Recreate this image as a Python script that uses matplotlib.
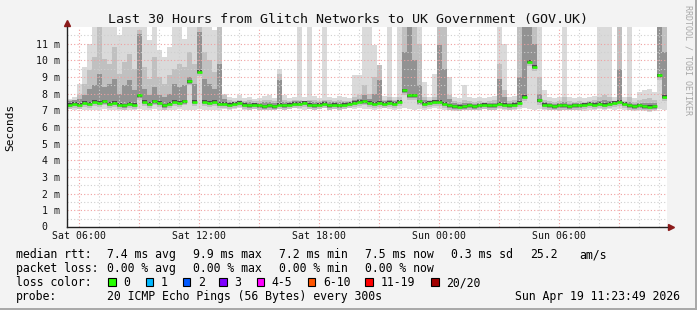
import matplotlib
matplotlib.use("Agg")
import matplotlib.pyplot as plt
import matplotlib.dates as mdates
from matplotlib.patches import Rectangle
import numpy as np
import pandas as pd

# one bin = 15 minutes, 30 hours in total
START = "2026-04-18 05:25"
STEP = "15min"

# smoke bands in ms (lowest ping, upper edges of the three gray layers)
smoke_lo = [
    7.1, 7.05, 7.1, 7.0, 7.05, 7.0, 7.05, 7.1, 7.0, 7.05,
    7.0, 7.05, 7.0, 7.05, 7.1, 7.0, 7.05, 7.1, 7.0, 7.05,
    7.0, 7.05, 7.1, 7.0, 7.05, 7.0, 7.1, 7.05, 7.0, 7.05,
    7.05, 7.1, 7.05, 7.1, 7.15, 7.05, 7.0, 7.1, 7.05, 7.0,
    7.05, 7.0, 7.1, 7.05, 7.1, 7.15, 7.1, 7.05, 7.1, 7.05,
    7.1, 7.15, 7.05, 7.1, 7.05, 7.1, 7.15, 7.1, 7.15, 7.1,
    7.1, 7.05, 7.1, 7.15, 7.1, 7.05, 7.1, 7.15, 7.1, 7.05,
    7.1, 7.05, 7.1, 7.15, 7.1, 7.05, 7.0, 6.95, 7.0, 7.0,
    7.05, 7.0, 7.05, 7.1, 7.0, 7.05, 7.1, 7.05, 7.0, 7.05,
    7.1, 7.15, 7.1, 7.05, 7.1, 7.0, 7.05, 7.0, 6.95, 7.0,
    7.0, 7.05, 7.0, 6.95, 7.05, 7.0, 7.1, 7.05, 7.1, 7.05,
    7.1, 7.05, 7.0, 6.95, 7.0, 6.95, 6.9, 6.95, 7.1, 7.05,
]
smoke_top = [
    7.7, 7.8, 8.6, 9.6, 11.0, 12.5, 12.5, 12.5, 12.5, 12.5,
    11.5, 12.5, 12.5, 12.5, 12.5, 12.5, 11.2, 12.5, 10.6, 10.2,
    10.8, 12.5, 12.5, 11.3, 12.5, 12.5, 12.5, 12.5, 12.5, 11.8,
    12.5, 8.0, 7.8, 7.75, 7.9, 7.75, 7.8, 7.7, 7.75, 7.85,
    7.9, 7.75, 9.5, 7.9, 7.75, 7.8, 12.5, 7.8, 12.5, 7.85,
    7.75, 12.5, 7.8, 7.75, 7.85, 7.8, 7.75, 9.1, 9.1, 12.5,
    12.5, 10.9, 9.7, 7.85, 12.5, 7.8, 12.5, 12.5, 12.5, 12.5,
    12.5, 8.7, 7.8, 9.2, 12.5, 12.5, 9.0, 7.8, 7.75, 8.5,
    7.8, 7.75, 7.8, 7.75, 7.8, 7.85, 12.5, 11.0, 7.8, 7.85,
    12.5, 12.5, 12.5, 12.5, 12.5, 8.2, 7.8, 7.75, 7.8, 12.5,
    7.8, 7.75, 7.8, 7.75, 7.8, 7.85, 12.5, 12.5, 12.5, 7.8,
    12.5, 7.8, 12.5, 7.75, 8.1, 8.2, 8.3, 8.1, 12.5, 12.5,
]
smoke_mid = [
    7.6, 7.65, 7.9, 8.6, 9.4, 10.2, 12.5, 10.1, 9.8, 10.8,
    9.2, 9.9, 10.4, 9.5, 11.8, 9.6, 8.9, 10.2, 9.0, 8.6,
    9.1, 9.5, 9.8, 9.6, 10.5, 9.8, 12.5, 10.5, 10.0, 9.3,
    12.5, 7.9, 7.6, 7.55, 7.65, 7.55, 7.6, 7.55, 7.55, 7.6,
    7.65, 7.55, 9.2, 7.65, 7.55, 7.6, 7.65, 7.55, 7.65, 7.6,
    7.55, 7.65, 7.6, 7.55, 7.6, 7.55, 7.55, 7.8, 7.9, 8.5,
    8.0, 9.0, 9.7, 7.65, 7.8, 7.6, 7.8, 12.5, 12.5, 12.5,
    11.0, 7.8, 7.6, 7.8, 12.5, 12.5, 7.9, 7.55, 7.5, 7.65,
    7.55, 7.5, 7.55, 7.5, 7.55, 7.6, 9.8, 8.2, 7.55, 7.6,
    12.5, 12.5, 12.5, 12.5, 9.0, 7.65, 7.55, 7.5, 7.55, 7.8,
    7.55, 7.5, 7.55, 7.5, 7.55, 7.6, 7.8, 7.9, 7.8, 7.55,
    12.5, 7.55, 7.8, 7.5, 7.65, 7.7, 7.75, 7.65, 12.5, 12.5,
]
smoke_dark = [
    7.55, 7.6, 7.7, 7.9, 8.3, 8.5, 9.2, 8.4, 8.6, 8.9,
    8.0, 8.5, 8.8, 8.2, 11.6, 8.3, 7.9, 8.4, 7.9, 7.8,
    8.0, 8.6, 8.4, 8.5, 9.0, 8.6, 11.7, 8.9, 8.6, 8.3,
    9.8, 7.7, 7.5, 7.5, 7.55, 7.5, 7.5, 7.45, 7.45, 7.5,
    7.5, 7.45, 8.8, 7.5, 7.5, 7.55, 7.55, 7.5, 7.55, 7.5,
    7.5, 7.55, 7.5, 7.5, 7.5, 7.5, 7.5, 7.6, 7.7, 7.9,
    7.7, 8.0, 8.8, 7.55, 7.6, 7.55, 7.6, 10.5, 12.5, 10.0,
    8.5, 7.6, 7.5, 7.6, 10.9, 9.5, 7.7, 7.45, 7.4, 7.45,
    7.45, 7.4, 7.45, 7.45, 7.45, 7.45, 8.9, 7.8, 7.45, 7.5,
    9.0, 12.5, 12.5, 11.0, 8.0, 7.5, 7.45, 7.4, 7.45, 7.5,
    7.4, 7.45, 7.45, 7.45, 7.5, 7.5, 7.55, 7.6, 7.55, 7.5,
    9.5, 7.5, 7.5, 7.4, 7.45, 7.45, 7.45, 7.45, 12.5, 10.5,
]
median_rtt = [
    7.35, 7.4, 7.35, 7.45, 7.4, 7.5, 7.45, 7.55, 7.4, 7.45,
    7.35, 7.3, 7.4, 7.35, 7.9, 7.5, 7.4, 7.55, 7.45, 7.3,
    7.4, 7.5, 7.45, 7.55, 8.75, 7.5, 9.3, 7.5, 7.45, 7.5,
    7.4, 7.4, 7.35, 7.4, 7.45, 7.35, 7.3, 7.35, 7.3, 7.25,
    7.3, 7.25, 7.35, 7.3, 7.35, 7.4, 7.4, 7.45, 7.35, 7.3,
    7.35, 7.4, 7.3, 7.35, 7.3, 7.35, 7.4, 7.45, 7.5, 7.55,
    7.45, 7.4, 7.45, 7.4, 7.45, 7.4, 7.5, 8.2, 7.9, 7.9,
    7.55, 7.4, 7.45, 7.5, 7.5, 7.4, 7.3, 7.25, 7.2, 7.25,
    7.3, 7.25, 7.3, 7.35, 7.3, 7.3, 7.4, 7.35, 7.3, 7.35,
    7.45, 7.8, 9.9, 9.6, 7.6, 7.35, 7.3, 7.25, 7.3, 7.3,
    7.25, 7.3, 7.3, 7.35, 7.4, 7.35, 7.4, 7.35, 7.4, 7.45,
    7.5, 7.4, 7.3, 7.25, 7.3, 7.25, 7.2, 7.25, 9.1, 7.8,
]

y_ticks = list(range(12))
y_labels = ["0"] + ["%d m" % v for v in range(1, 12)]

title = "Last 30 Hours from Glitch Networks to UK Government (GOV.UK)"
rtt_items = ["7.4 ms avg", "9.9 ms max", "7.2 ms min", "7.5 ms now",
             "0.3 ms sd", "25.2", "am/s"]
loss_items = ["0.00 % avg", "0.00 % max", "0.00 % min", "0.00 % now"]
loss_labels = ["0", "1", "2", "3", "4-5", "6-10", "11-19", "20/20"]
loss_colors = ["#26ff00", "#00b8ff", "#0059ff", "#7e00ff",
               "#ff00ff", "#ff5500", "#ff0000", "#a10000"]
probe_text = "20 ICMP Echo Pings (56 Bytes) every 300s"
stamp_text = "Sun Apr 19 11:23:49 2026"

plt.rcParams["font.family"] = ["DejaVu Sans Mono"]

W, H = 697, 310
fig = plt.figure(figsize=(W / 100, H / 100), dpi=100, facecolor="#f3f3f3")
ax = fig.add_axes([67 / W, (H - 227) / H, 600 / W, 200 / H])
ax.set_facecolor("white")

edges = pd.date_range(START, periods=len(median_rtt) + 1, freq=STEP)
ex = mdates.date2num(edges.to_pydatetime())
med = np.array(median_rtt)

ax.stairs(smoke_top, ex, baseline=smoke_lo, fill=True, color="#dadada", lw=0, zorder=1)
ax.stairs(smoke_mid, ex, baseline=med - 0.25, fill=True, color="#c0c0c0", lw=0, zorder=1.2)
ax.stairs(smoke_dark, ex, baseline=med - 0.14, fill=True, color="#929292", lw=0, zorder=1.4)
ax.stairs(med + 0.1, ex, baseline=med - 0.08, fill=True, color="#4a4a4a", lw=0, zorder=1.6)

# rrdtool puts the grid over the smoke
dots = (0, (1, 2))
for t in pd.date_range("2026-04-18 06:00", "2026-04-19 11:00", freq="1h"):
    col = "#f0a0a0" if t.hour % 3 == 0 else "#cfcfcf"
    ax.axvline(mdates.date2num(t.to_pydatetime()), color=col, lw=0.8, ls=dots, zorder=3)
for y in np.arange(0.5, 12, 0.5):
    col = "#f0a0a0" if y % 1 == 0 else "#cfcfcf"
    ax.axhline(y, color=col, lw=0.8, ls=dots, zorder=3)

ax.hlines(med, ex[:-1], ex[1:], colors="#26ff00", lw=1.8, zorder=4)

ax.set_xlim(ex[0], ex[-1])
ax.set_ylim(0, 12)
ax.set_yticks(y_ticks)
# rrdtool keeps room for the unit after the zero too, so it sits further left
ax.set_yticklabels([""] + y_labels[1:])
ax.text(-20 / 600, 0, y_labels[0], transform=ax.get_yaxis_transform(),
        ha="right", va="center", fontsize=7.1, color="#111111")
ax.xaxis.set_major_locator(mdates.HourLocator(byhour=[0, 6, 12, 18]))
ax.xaxis.set_major_formatter(mdates.DateFormatter("%a %H:%M"))
ax.tick_params(axis="both", length=0, labelsize=7.1, colors="#111111")
ax.tick_params(axis="y", pad=5)
ax.tick_params(axis="x", pad=3)

for side in ("top", "right"):
    ax.spines[side].set_visible(False)
for side in ("left", "bottom"):
    ax.spines[side].set_color("#222222")
    ax.spines[side].set_linewidth(1)
    ax.spines[side].set_zorder(5)

ax.plot([1.007], [0], marker=">", ms=5, color="#8b1a1a", transform=ax.transAxes, clip_on=False)
ax.plot([0], [1.022], marker="^", ms=5, color="#8b1a1a", transform=ax.transAxes, clip_on=False)

fig.text(348 / W, 1 - 19 / H, title, ha="center", va="center", fontsize=9.6, color="#111111")
fig.text(10 / W, 1 - 127 / H, "Seconds", rotation=90, ha="center", va="center", fontsize=8)
fig.text(688 / W, 1 - 60 / H, "RRDTOOL / TOBI OETIKER", rotation=270,
         ha="center", va="center", fontsize=6, color="#a8a8a8")

fs = 8.3
rows_base = [258, 272, 286, 300]


def legend_text(x, row, s, **kw):
    fig.text(x / W, 1 - rows_base[row] / H, s, va="baseline", fontsize=fs, **kw)


legend_text(16, 0, "median rtt:")
for x, s in zip([107, 193.3, 279.3, 365, 451, 530, 579.3], rtt_items):
    legend_text(x, 0, s)

legend_text(16, 1, "packet loss:")
for x, s in zip([107, 193.3, 279.3, 365], loss_items):
    legend_text(x, 1, s)

legend_text(16, 2, "loss color:")
box_x = [108, 145.5, 182.5, 219, 256.5, 307.5, 365, 431]
for x, lab, col in zip(box_x, loss_labels, loss_colors):
    fig.add_artist(Rectangle((x / W, 1 - (rows_base[2] - 0.5) / H), 7.5 / W, 7.5 / H,
                             transform=fig.transFigure, facecolor=col,
                             edgecolor="black", lw=0.8))
    legend_text(x + 15.3, 2, lab)

legend_text(16, 3, "probe:")
legend_text(107, 3, probe_text)
legend_text(680, 3, stamp_text, ha="right")

# 3d-ish frame of the rrdtool canvas
fig.add_artist(Rectangle((1 - 2 / W, 0), 2 / W, 1, transform=fig.transFigure,
                         facecolor="#a9a9a9", lw=0))
fig.add_artist(Rectangle((0, 0), 1, 2 / H, transform=fig.transFigure,
                         facecolor="#a9a9a9", lw=0))

fig.savefig("out.png", dpi=100, facecolor=fig.get_facecolor())
plt.close(fig)
